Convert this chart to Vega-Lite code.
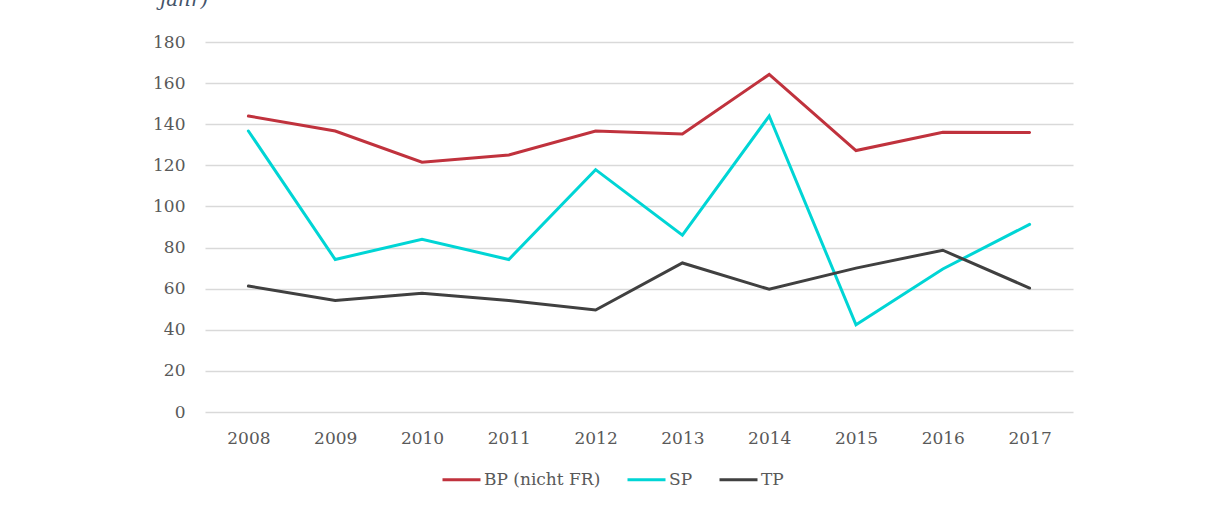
{
  "$schema": "https://vega.github.io/schema/vega-lite/v6.json",
  "autosize": "none",
  "width": 868,
  "height": 370,
  "padding": {"left": 205, "top": 42, "right": 133, "bottom": 98},
  "background": "white",
  "title": {
    "text": "jahr)",
    "anchor": "start",
    "frame": "group",
    "orient": "top",
    "offset": 23,
    "dx": -45,
    "font": "DejaVu Serif",
    "fontStyle": "italic",
    "fontWeight": "normal",
    "fontSize": 20,
    "color": "#44546A"
  },
  "data": {
    "values": [
      {"Jahr": "2008", "Serie": "BP (nicht FR)", "Wert": 144},
      {"Jahr": "2009", "Serie": "BP (nicht FR)", "Wert": 136.7},
      {"Jahr": "2010", "Serie": "BP (nicht FR)", "Wert": 121.5},
      {"Jahr": "2011", "Serie": "BP (nicht FR)", "Wert": 125},
      {"Jahr": "2012", "Serie": "BP (nicht FR)", "Wert": 136.7},
      {"Jahr": "2013", "Serie": "BP (nicht FR)", "Wert": 135.3},
      {"Jahr": "2014", "Serie": "BP (nicht FR)", "Wert": 164.2},
      {"Jahr": "2015", "Serie": "BP (nicht FR)", "Wert": 127.2},
      {"Jahr": "2016", "Serie": "BP (nicht FR)", "Wert": 136.1},
      {"Jahr": "2017", "Serie": "BP (nicht FR)", "Wert": 136},
      {"Jahr": "2008", "Serie": "SP", "Wert": 136.7},
      {"Jahr": "2009", "Serie": "SP", "Wert": 74.2},
      {"Jahr": "2010", "Serie": "SP", "Wert": 84},
      {"Jahr": "2011", "Serie": "SP", "Wert": 74.2},
      {"Jahr": "2012", "Serie": "SP", "Wert": 117.9},
      {"Jahr": "2013", "Serie": "SP", "Wert": 86},
      {"Jahr": "2014", "Serie": "SP", "Wert": 144},
      {"Jahr": "2015", "Serie": "SP", "Wert": 42.4},
      {"Jahr": "2016", "Serie": "SP", "Wert": 69.6},
      {"Jahr": "2017", "Serie": "SP", "Wert": 91.3},
      {"Jahr": "2008", "Serie": "TP", "Wert": 61.3},
      {"Jahr": "2009", "Serie": "TP", "Wert": 54.2},
      {"Jahr": "2010", "Serie": "TP", "Wert": 57.8},
      {"Jahr": "2011", "Serie": "TP", "Wert": 54.2},
      {"Jahr": "2012", "Serie": "TP", "Wert": 49.6},
      {"Jahr": "2013", "Serie": "TP", "Wert": 72.5},
      {"Jahr": "2014", "Serie": "TP", "Wert": 59.7},
      {"Jahr": "2015", "Serie": "TP", "Wert": 70},
      {"Jahr": "2016", "Serie": "TP", "Wert": 78.7},
      {"Jahr": "2017", "Serie": "TP", "Wert": 60.3}
    ]
  },
  "mark": {"type": "line", "strokeWidth": 3, "strokeCap": "round", "strokeJoin": "miter"},
  "encoding": {
    "x": {
      "field": "Jahr",
      "type": "ordinal",
      "scale": {"type": "point", "padding": 0.5},
      "axis": {
        "title": null,
        "labelAngle": 0,
        "domain": false,
        "ticks": false,
        "grid": false,
        "labelPadding": 18,
        "labelFont": "DejaVu Serif",
        "labelFontSize": 17,
        "labelColor": "#595959"
      }
    },
    "y": {
      "field": "Wert",
      "type": "quantitative",
      "scale": {"domain": [0, 180], "nice": false},
      "axis": {
        "title": null,
        "values": [0, 20, 40, 60, 80, 100, 120, 140, 160, 180],
        "domain": false,
        "ticks": false,
        "grid": true,
        "gridColor": "#D9D9D9",
        "gridWidth": 1.5,
        "labelPadding": 20,
        "labelFont": "DejaVu Serif",
        "labelFontSize": 17,
        "labelColor": "#595959"
      }
    },
    "color": {
      "field": "Serie",
      "type": "nominal",
      "scale": {
        "domain": ["BP (nicht FR)", "SP", "TP"],
        "range": ["#C0323D", "#00D5D5", "#404040"]
      },
      "legend": {
        "title": null,
        "orient": "none",
        "direction": "horizontal",
        "legendX": 236,
        "legendY": 417,
        "symbolType": "stroke",
        "symbolSize": 1444,
        "symbolStrokeWidth": 3,
        "labelOffset": 2,
        "columnPadding": 20,
        "labelFont": "DejaVu Serif",
        "labelFontSize": 17,
        "labelColor": "#595959"
      }
    }
  },
  "config": {"view": {"stroke": null}}
}
